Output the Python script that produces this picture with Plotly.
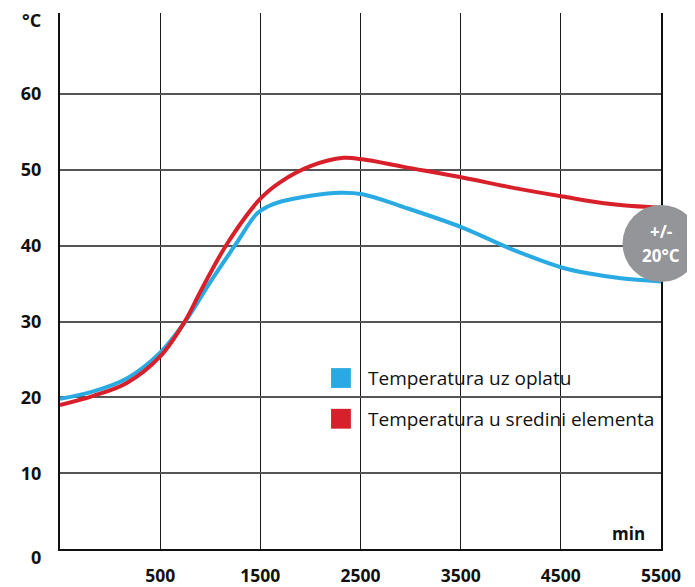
import plotly.graph_objects as go

# ---- data ----
time_oplata = [-500, -167, 167, 500, 750, 1000, 1260, 1470, 1580, 1700, 2000, 2300, 2520, 2930,
               3517, 4000, 4517, 4800, 5100, 5500]
temp_oplata = [19.8, 20.8, 22.5, 25.9, 30.0, 35.2, 40.3, 44.3, 45.2, 45.8, 46.6, 47.0, 46.8, 45.1,
               42.4, 39.6, 37.1, 36.3, 35.7, 35.3]
time_sredina = [-500, -167, 167, 500, 750, 900, 1170, 1500, 1700, 2000, 2330, 2520, 2930,
                3517, 4000, 4517, 5000, 5500]
temp_sredina = [19.0, 20.2, 21.9, 25.4, 30.1, 33.9, 40.3, 46.2, 48.4, 50.5, 51.6, 51.4, 50.4,
                49.0, 47.7, 46.5, 45.5, 45.0]
x_ticks = [500, 1500, 2500, 3500, 4500, 5500]
y_ticks = [10, 20, 30, 40, 50, 60]
series_names = ["Temperatura uz oplatu", "Temperatura u sredini elementa"]
colors = ["#2aaae2", "#d8202a"]

FONT = "Open Sans"

fig = go.Figure()
fig.add_trace(go.Scatter(x=time_oplata, y=temp_oplata, mode="lines", name=series_names[0],
                         line=dict(color=colors[0], width=4, shape="spline", smoothing=1.0)))
fig.add_trace(go.Scatter(x=time_sredina, y=temp_sredina, mode="lines", name=series_names[1],
                         line=dict(color=colors[1], width=4, shape="spline", smoothing=1.0)))

# page body has an 8px default margin, so the figure is sized/offset to compensate
fig.update_layout(
    width=687, height=579,
    margin=dict(l=52, r=34, t=5, b=38),
    paper_bgcolor="white", plot_bgcolor="white",
    showlegend=False,
    font=dict(family=FONT, color="#111"),
)
fig.update_xaxes(
    range=[-500, 5500], tickvals=x_ticks, ticktext=[str(v) for v in x_ticks],
    showgrid=True, gridcolor="#1a1a1a", gridwidth=1.3,
    showline=True, linecolor="#111", linewidth=2,
    ticks="", ticklabelstandoff=10, zeroline=False, automargin=False,
    tickfont=dict(family=FONT, size=17.5, color="#111", weight="bold"),
)
fig.update_yaxes(
    range=[0, 70.7], tickvals=y_ticks, ticktext=[str(v) for v in y_ticks],
    showgrid=True, gridcolor="#555", gridwidth=1.6,
    showline=True, linecolor="#111", linewidth=2, mirror=True,
    ticks="", ticklabelstandoff=13, zeroline=False, automargin=False,
    tickfont=dict(family=FONT, size=18, color="#111", weight="bold"),
)

ann = []
ann.append(dict(text="°C", xref="paper", yref="paper", x=-0.028, y=0.987, xanchor="right",
                yanchor="middle", showarrow=False, font=dict(size=18, weight="bold", color="#111")))
ann.append(dict(text="0", xref="paper", yref="paper", x=-0.028, y=-0.015, xanchor="right",
                yanchor="middle", showarrow=False, font=dict(size=18, weight="bold", color="#111")))
ann.append(dict(text="min", xref="paper", yref="paper", x=0.977, y=0.028, xanchor="right",
                yanchor="middle", showarrow=False, font=dict(size=17, weight="bold", color="#111")))
# legend
shapes = []
for i, (yc, name) in enumerate([(0.319, series_names[0]), (0.243, series_names[1])]):
    shapes.append(dict(type="rect", xref="paper", yref="paper", x0=0.451, x1=0.484,
                       y0=yc - 0.0185, y1=yc + 0.0185, fillcolor=colors[i], line=dict(width=0)))
    ann.append(dict(text=name, xref="paper", yref="paper", x=0.509, y=yc, xanchor="left",
                    yanchor="middle", showarrow=False, font=dict(size=19, color="#111")))
# tolerance badge
shapes.append(dict(type="circle", xref="paper", yref="paper", x0=0.936, x1=1.064,
                   y0=0.498, y1=0.642, fillcolor="#939598", line=dict(width=0), layer="above"))
ann.append(dict(text="+/-", xref="paper", yref="paper", x=1.0, y=0.592, xanchor="center",
                yanchor="middle", showarrow=False, font=dict(size=17, weight="bold", color="white")))
ann.append(dict(text="20°C", xref="paper", yref="paper", x=1.0, y=0.547, xanchor="center",
                yanchor="middle", showarrow=False, font=dict(size=17, weight="bold", color="white")))
fig.update_layout(annotations=ann, shapes=shapes)

fig.write_html("out.html")
